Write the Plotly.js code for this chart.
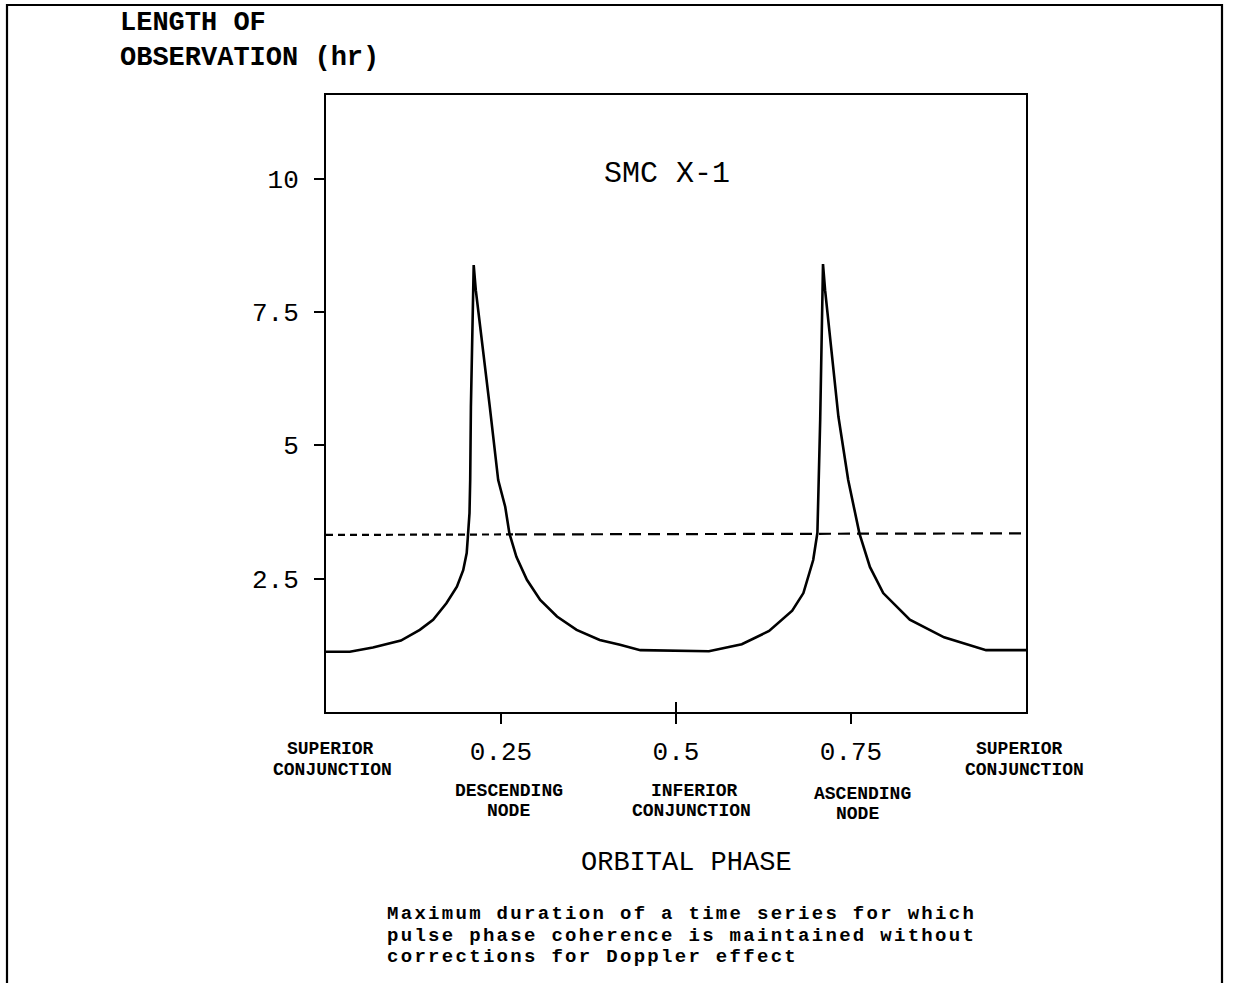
<!DOCTYPE html>
<html>
<head>
<meta charset="utf-8">
<script src="https://cdn.plot.ly/plotly-3.0.1.min.js"></script>
<style>
  html, body { margin: 0; padding: 0; background: #ffffff; }
  #chart { width: 1233px; height: 983px; }
  #chart g.annotation[data-index="14"] text,
  #chart g.annotation[data-index="15"] text,
  #chart g.annotation[data-index="16"] text { letter-spacing: 2.3px; }
</style>
</head>
<body>
<div id="chart"></div>
<script>
// ---------------- data ----------------
const orbitalPhase = [0, 0.034, 0.067, 0.107, 0.134, 0.153, 0.172, 0.187, 0.196, 0.201, 0.203, 0.205,
  0.206, 0.207, 0.211, 0.214, 0.234, 0.246, 0.256, 0.262, 0.272, 0.287, 0.306, 0.330, 0.358, 0.391,
  0.420, 0.449, 0.547, 0.594, 0.633, 0.666, 0.682, 0.696, 0.702, 0.706, 0.710, 0.713, 0.732, 0.746,
  0.762, 0.777, 0.796, 0.834, 0.883, 0.943, 1.0];
const observationHours = [1.13, 1.13, 1.21, 1.34, 1.54, 1.73, 2.04, 2.35, 2.66, 2.98, 3.35, 3.73,
  4.35, 5.72, 8.38, 7.91, 5.72, 4.35, 3.85, 3.35, 2.91, 2.48, 2.10, 1.79, 1.54, 1.35,
  1.26, 1.16, 1.14, 1.27, 1.52, 1.90, 2.23, 2.85, 3.36, 5.48, 8.40, 7.91, 5.54, 4.35,
  3.35, 2.72, 2.23, 1.73, 1.40, 1.16, 1.16];

const thresholdLeftPhase = [0, 0.27];
const thresholdLeftHours = [3.32, 3.33];
const thresholdRightPhase = [0.27, 1.0];
const thresholdRightHours = [3.33, 3.35];

const xTickVals = [0.25, 0.5, 0.75];
const xTickText = ['0.25', '0.5', '0.75'];
const yTickVals = [2.5, 5, 7.5, 10];
const yTickText = ['2.5', '5', '7.5', '10'];

const sourceName = 'SMC X-1';
const yTitleLines = ['LENGTH OF', 'OBSERVATION (hr)'];
const xTitle = 'ORBITAL PHASE';
const phaseLabels = ['SUPERIOR', 'CONJUNCTION', 'SUPERIOR', 'CONJUNCTION',
  'DESCENDING', 'NODE', 'INFERIOR', 'CONJUNCTION', 'ASCENDING', 'NODE'];
const captionLines = ['Maximum duration of a time series for which',
  'pulse phase coherence is maintained without',
  'corrections for Doppler effect'];

// ---------------- layout helpers (pixel -> paper) ----------------
const L = 326, T = 95, W = 700, H = 617;
const PX = x => (x - L) / W;
const PY = y => (T + H - y) / H;
const MONO = 'Liberation Mono, DejaVu Sans Mono, monospace';

const phaseLabelPos = [[330, 749], [332, 770], [1019, 749], [1024, 770],
  [509, 791], [508, 811], [694, 791], [691, 811], [862, 794], [857, 814]];
const captionPos = [[385, 914], [385, 935.5], [385, 957]];
const yTitlePos = [[118, 23], [118, 58]];

const annotations = [];
annotations.push({text: sourceName, xref: 'paper', yref: 'paper', x: PX(667), y: PY(174),
  xanchor: 'center', yanchor: 'middle', showarrow: false,
  font: {family: MONO, size: 30, color: '#000'}});
yTitleLines.forEach((t, i) => annotations.push({text: '<b>' + t + '</b>', xref: 'paper', yref: 'paper',
  x: PX(yTitlePos[i][0]), y: PY(yTitlePos[i][1]), xanchor: 'left', yanchor: 'middle', showarrow: false,
  align: 'left', font: {family: MONO, size: 27, color: '#000'}}));
phaseLabels.forEach((t, i) => annotations.push({text: '<b>' + t + '</b>', xref: 'paper', yref: 'paper',
  x: PX(phaseLabelPos[i][0]), y: PY(phaseLabelPos[i][1]), xanchor: 'center', yanchor: 'middle', showarrow: false,
  font: {family: MONO, size: 18, color: '#000'}}));
annotations.push({text: xTitle, xref: 'paper', yref: 'paper', x: PX(686), y: PY(863),
  xanchor: 'center', yanchor: 'middle', showarrow: false,
  font: {family: MONO, size: 27, color: '#000'}});
captionLines.forEach((t, i) => annotations.push({text: '<b>' + t + '</b>', xref: 'paper', yref: 'paper',
  x: PX(captionPos[i][0]), y: PY(captionPos[i][1]), xanchor: 'left', yanchor: 'middle', showarrow: false,
  align: 'left', font: {family: MONO, size: 19, color: '#000'}}));

const traces = [
  {x: orbitalPhase, y: observationHours, type: 'scatter', mode: 'lines',
   line: {color: '#000', width: 2.6}, xaxis: 'x', yaxis: 'y', hoverinfo: 'skip'},
  {x: thresholdLeftPhase, y: thresholdLeftHours, type: 'scatter', mode: 'lines',
   line: {color: '#000', width: 2.2, dash: '7px,5px'}, xaxis: 'x2', yaxis: 'y', hoverinfo: 'skip'},
  {x: thresholdRightPhase, y: thresholdRightHours, type: 'scatter', mode: 'lines',
   line: {color: '#000', width: 2.2, dash: '12px,7px'}, xaxis: 'x2', yaxis: 'y', hoverinfo: 'skip'}
];

const layout = {
  width: 1233, height: 983,
  margin: {l: L, r: 1233 - L - W, t: T, b: 983 - T - H, pad: 0},
  paper_bgcolor: '#fff', plot_bgcolor: '#fff',
  showlegend: false,
  xaxis: {range: [0, 1], tickvals: xTickVals, ticktext: xTickText, ticks: 'outside',
    ticklen: 10, tickwidth: 2, tickcolor: '#000', showline: true, mirror: true, linewidth: 2,
    linecolor: '#000', showgrid: false, zeroline: false, fixedrange: true,
    tickfont: {family: MONO, size: 26, color: '#000'}, ticklabelstandoff: 5},
  xaxis2: {range: [0, 1], overlaying: 'x', anchor: 'y', side: 'bottom', tickvals: [0.5],
    ticks: 'inside', ticklen: 10, tickwidth: 2, tickcolor: '#000', showticklabels: false,
    showline: false, showgrid: false, zeroline: false, fixedrange: true},
  yaxis: {range: [0, 11.57], tickvals: yTickVals, ticktext: yTickText, ticks: 'outside',
    ticklen: 10, tickwidth: 2, tickcolor: '#000', showline: true, mirror: true, linewidth: 2,
    linecolor: '#000', showgrid: false, zeroline: false, fixedrange: true,
    tickfont: {family: MONO, size: 26, color: '#000'}, ticklabelstandoff: 10},
  annotations: annotations,
  shapes: [{type: 'rect', xref: 'paper', yref: 'paper',
    x0: PX(7), x1: PX(1222), y0: PY(1000), y1: PY(5),
    line: {color: '#000', width: 2.2}, fillcolor: 'rgba(0,0,0,0)'}]
};

Plotly.newPlot('chart', traces, layout, {staticPlot: true, displayModeBar: false});
</script>
</body>
</html>
